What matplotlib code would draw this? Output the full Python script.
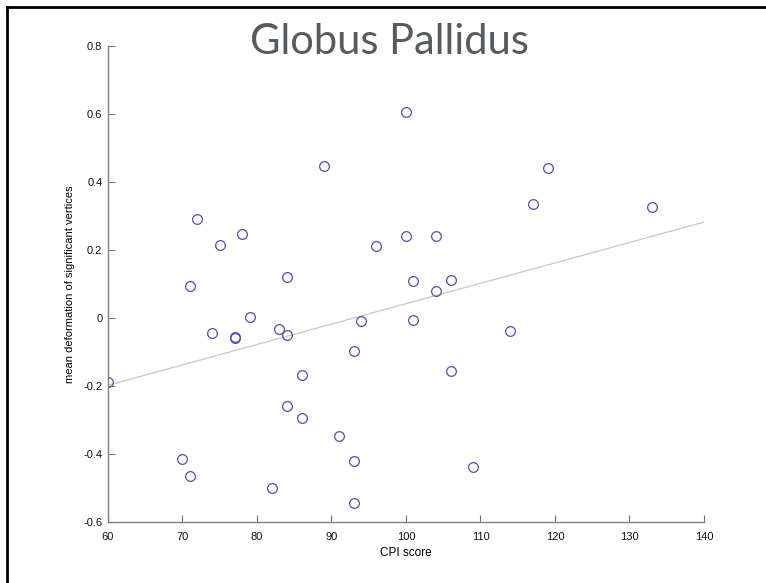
import matplotlib
matplotlib.use("Agg")
import matplotlib.pyplot as plt
import numpy as np
from matplotlib.lines import Line2D

# CPI score vs mean deformation of significant vertices (globus pallidus)
cpi_score = [60, 70, 71, 71, 72, 74, 75, 77, 77, 78, 79, 82, 83, 84, 84, 84,
             86, 86, 89, 91, 93, 93, 93, 94, 96, 100, 100, 101, 101, 104, 104,
             106, 106, 109, 114, 117, 119, 133]
mean_deform = [-0.188, -0.416, -0.465, 0.095, 0.291, -0.043, 0.215, -0.057,
               -0.060, 0.246, 0.004, -0.501, -0.032, -0.050, 0.119, -0.259,
               -0.168, -0.295, 0.446, -0.347, -0.096, -0.421, -0.546, -0.010,
               0.213, 0.605, 0.240, 0.110, -0.005, 0.240, 0.078, 0.113,
               -0.157, -0.438, -0.038, 0.335, 0.441, 0.325]

# least-squares fit line drawn across the full x range
fit_x = [60, 140]
y_ticks = [-0.6, -0.4, -0.2, 0, 0.2, 0.4, 0.6, 0.8]
y_tick_labels = ["-0.6", "-0.4", "-0.2", "0", "0.2", "0.4", "0.6", "0.8"]
x_ticks = [60, 70, 80, 90, 100, 110, 120, 130, 140]

plt.rcParams["font.family"] = ["Liberation Sans", "DejaVu Sans"]

fig = plt.figure(figsize=(7.66, 5.83), dpi=100)
ax = fig.add_axes([0.141, 0.105, 0.778, 0.816])

slope, intercept = np.polyfit(cpi_score, mean_deform, 1)
fx = np.array(fit_x, dtype=float)
ax.plot(fx, intercept + slope * fx, color="#c8c8c8", linewidth=0.9, zorder=1)

ax.plot(cpi_score, mean_deform, linestyle="none", marker="o", markersize=7,
        markerfacecolor="none", markeredgecolor="#5050a8", markeredgewidth=0.9,
        zorder=2)

ax.set_xlim(60, 140)
ax.set_ylim(-0.6, 0.8)
ax.set_xticks(x_ticks)
ax.set_yticks(y_ticks)
ax.set_yticklabels(y_tick_labels)
ax.tick_params(direction="in", length=5, width=0.8, color="#707070",
               labelsize=8, labelcolor="#111111")
ax.tick_params(axis="x", pad=7)
ax.tick_params(axis="y", pad=4)
for side in ("top", "right"):
    ax.spines[side].set_visible(False)
for side in ("left", "bottom"):
    ax.spines[side].set_color("#808080")
    ax.spines[side].set_linewidth(1.0)

ax.set_xlabel("CPI score", fontsize=8.5, labelpad=4)
ax.set_ylabel("mean deformation of significant vertices", fontsize=8,
              labelpad=6)

fig.text(0.508, 0.928, "Globus Pallidus", fontsize=30, color="#575b5e",
         ha="center", va="center", family=["Lato", "DejaVu Sans"])

# slide frame along the left and top edges
fig.add_artist(Line2D([0.0094, 0.0094], [0, 0.988], transform=fig.transFigure,
                      color="black", linewidth=2))
fig.add_artist(Line2D([0.0094, 1.0], [0.988, 0.988], transform=fig.transFigure,
                      color="black", linewidth=2))

fig.savefig("out.png", dpi=100)
